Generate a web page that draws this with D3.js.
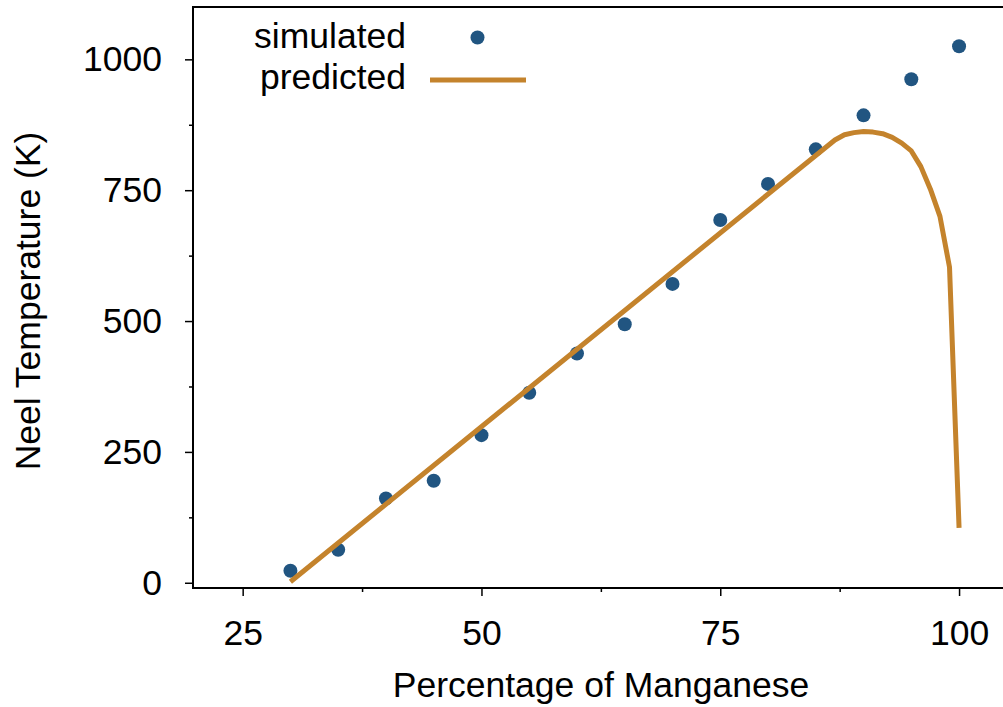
<!DOCTYPE html>
<html>
<head>
	<meta charset="utf-8">
	<script src="https://cdn.jsdelivr.net/npm/d3@7"></script>
	<style>
		body {
			margin: 0;
			background: #fff;
		}

		text {
			font-family: 'Liberation Sans', Arial, Helvetica, sans-serif;
			fill: #000;
		}
	</style>
	<title>Neel Temperature</title>
</head>
<body>
	<script>
		// simulated points
		var sim_x = [30, 35, 40, 45, 50, 55, 60, 65, 70, 75, 80, 85, 90, 95, 100];
		var sim_y = [23, 63, 161, 195, 282, 363, 438, 494, 571, 693, 762, 828, 893, 962, 1025];
		// predicted curve
		var pred_x = [30, 87, 88, 89, 90, 91, 92, 93, 94, 95, 96, 97, 98, 99, 100];
		var pred_y = [2, 846, 856, 860, 862, 861, 858, 851, 840, 825, 795, 752, 700, 603, 105];
		// ticks
		var x_ticks = [25, 50, 75, 100];
		var x_minor = [37.5, 62.5, 87.5];
		var y_ticks = [0, 250, 500, 750, 1000];
		var y_minor = [125, 375, 625, 875];
		var legend_labels = ["simulated", "predicted"];

		var width = 1003, height = 707;
		var margin = ({ top: 7, right: 0, bottom: 119, left: 193 });
		var blue = "#215581", orange = "#c4832c";
		var fs = 35.5;

		var x_scale = d3.scaleLinear()
			.domain([19.8, 104.6])
			.range([margin.left, width - margin.right]);
		var y_scale = d3.scaleLinear()
			.domain([-10, 1100])
			.range([height - margin.bottom, margin.top]);

		var svg = d3.select('body')
			.append('svg')
			.attr('width', width)
			.attr('height', height);

		// axes
		svg.append('g')
			.attr('transform', `translate(0,${height - margin.bottom})`)
			.call(d3.axisBottom(x_scale).tickValues(x_ticks).tickSize(8).tickPadding(24).tickFormat(d3.format('d')));
		svg.append('g')
			.attr('transform', `translate(0,${height - margin.bottom})`)
			.call(d3.axisBottom(x_scale).tickValues(x_minor).tickSize(4).tickFormat(''));
		svg.append('g')
			.attr('transform', `translate(${margin.left},0)`)
			.call(d3.axisLeft(y_scale).tickValues(y_ticks).tickSize(8).tickPadding(23).tickFormat(d3.format('d')));
		svg.append('g')
			.attr('transform', `translate(${margin.left},0)`)
			.call(d3.axisLeft(y_scale).tickValues(y_minor).tickSize(4).tickFormat(''));

		svg.selectAll('.domain').remove();
		svg.selectAll('.tick line').attr('stroke', '#000').attr('stroke-width', 1.5);
		svg.selectAll('.tick text').style('font-size', fs + 'px').attr('fill', '#000');

		// frame: left, bottom, top
		var x0 = margin.left, x1 = width - margin.right;
		var y0 = margin.top, y1 = height - margin.bottom;
		svg.append('path')
			.attr('d', `M${x1},${y0}H${x0}V${y1}H${x1}`)
			.attr('fill', 'none')
			.attr('stroke', '#000')
			.attr('stroke-width', 2);

		// simulated circles
		svg.selectAll('circle.sim')
			.data(sim_x.map((d, i) => ({ x: d, y: sim_y[i] })))
			.enter()
			.append('circle')
			.attr('class', 'sim')
			.attr('cx', d => x_scale(d.x))
			.attr('cy', d => y_scale(d.y))
			.attr('r', 7)
			.attr('fill', blue);

		// predicted line
		var line = d3.line()
			.x(d => x_scale(d.x))
			.y(d => y_scale(d.y));
		svg.append('path')
			.attr('d', line(pred_x.map((d, i) => ({ x: d, y: pred_y[i] }))))
			.attr('fill', 'none')
			.attr('stroke', orange)
			.attr('stroke-width', 5)
			.attr('stroke-linejoin', 'round');

		// legend
		svg.append('text').attr('x', 406).attr('y', 48)
			.attr('text-anchor', 'end').style('font-size', fs + 'px')
			.text(legend_labels[0]);
		svg.append('circle').attr('cx', 477.5).attr('cy', 37.5).attr('r', 7).attr('fill', blue);
		svg.append('text').attr('x', 406).attr('y', 89)
			.attr('text-anchor', 'end').style('font-size', fs + 'px')
			.text(legend_labels[1]);
		svg.append('line').attr('x1', 430).attr('x2', 526).attr('y1', 80).attr('y2', 80)
			.attr('stroke', orange).attr('stroke-width', 5);

		// axis titles
		svg.append('text')
			.attr('x', 601).attr('y', 697)
			.attr('text-anchor', 'middle').style('font-size', fs + 'px')
			.text('Percentage of Manganese');
		svg.append('text')
			.attr('transform', 'translate(40,301) rotate(-90)')
			.attr('text-anchor', 'middle').style('font-size', fs + 'px')
			.text('Neel Temperature (K)');
	</script>
</body>
</html>
